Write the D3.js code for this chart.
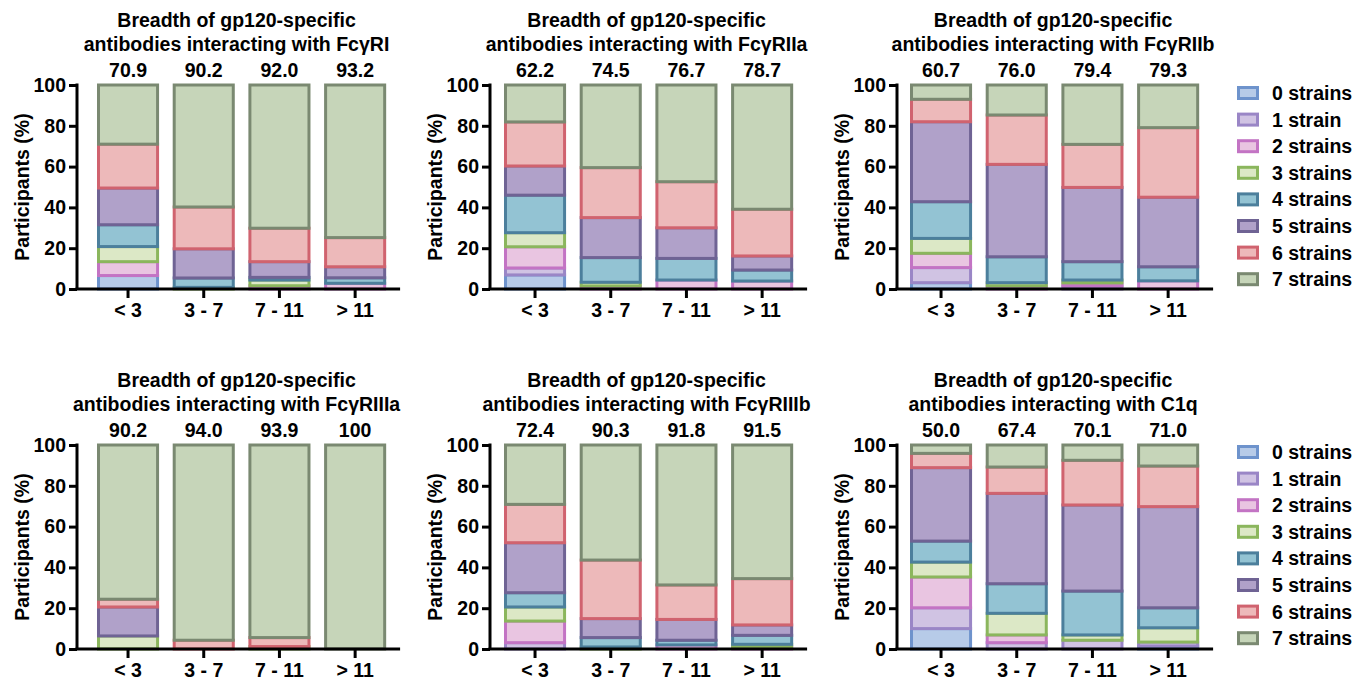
<!DOCTYPE html>
<html>
<head>
<meta charset="utf-8">
<script src="https://cdn.jsdelivr.net/npm/d3@7"></script>
<style>
  body { margin: 0; background: #fff; }
  svg { display: block; font-family: "Liberation Sans", Arial, sans-serif; font-weight: bold; }
</style>
</head>
<body>
<div id="chart"></div>
<script>
// categories (x axis) and stack keys
const groups = ["< 3", "3 - 7", "7 - 11", "> 11"];
const strainKeys = ["0 strains", "1 strain", "2 strains", "3 strains", "4 strains", "5 strains", "6 strains", "7 strains"];

// panel titles (second line)
const receptors = ["FcγRI", "FcγRIIa", "FcγRIIb", "FcγRIIIa", "FcγRIIIb", "C1q"];

// numbers printed above the bars
const topLabels = [
  ["70.9", "90.2", "92.0", "93.2"],
  ["62.2", "74.5", "76.7", "78.7"],
  ["60.7", "76.0", "79.4", "79.3"],
  ["90.2", "94.0", "93.9", "100"],
  ["72.4", "90.3", "91.8", "91.5"],
  ["50.0", "67.4", "70.1", "71.0"]
];

// % of participants per number of strains (0..7), one row per age group
const fcgr1 = [
  [6.6, 0, 6.8, 7.4, 10.7, 18.0, 21.5, 29.0],
  [0, 0, 0, 0.8, 4.6, 14.3, 20.5, 59.8],
  [0, 0, 1.6, 2.8, 1.3, 7.7, 16.4, 70.2],
  [0, 0, 2.8, 0, 2.7, 5.4, 14.3, 74.8]
];
const fcgr2a = [
  [6.9, 3.4, 10.4, 6.9, 18.4, 14.3, 21.6, 18.1],
  [0, 0, 1.5, 1.8, 12.1, 19.6, 24.5, 40.5],
  [0, 0, 4.4, 0, 10.6, 15.0, 22.6, 47.4],
  [0, 0, 3.9, 0, 5.4, 6.9, 22.9, 60.9]
];
const fcgr2b = [
  [3.1, 7.4, 7.0, 7.3, 18.0, 39.2, 11.0, 7.0],
  [0, 0, 1.5, 1.6, 12.7, 45.3, 24.2, 14.7],
  [0, 1.5, 1.5, 1.4, 9.0, 36.4, 21.1, 29.1],
  [0, 0, 4.0, 0, 6.9, 34.1, 34.1, 20.9]
];
const fcgr3a = [
  [0, 0, 0, 6.4, 0, 14.2, 3.8, 75.6],
  [0, 0, 0, 0, 0, 0, 4.3, 95.7],
  [0, 0, 0, 1.2, 0, 0, 4.4, 94.4],
  [0, 0, 0, 0, 0, 0, 0, 100]
];
const fcgr3b = [
  [0, 3.1, 10.6, 6.9, 7.0, 24.5, 18.8, 29.1],
  [0, 0, 0, 1.0, 4.6, 9.3, 28.7, 56.4],
  [0, 0, 2.0, 0, 2.3, 10.2, 16.9, 68.6],
  [0, 0, 1.0, 1.3, 4.4, 5.1, 22.7, 65.5]
];
const c1q = [
  [10.0, 10.2, 15.1, 7.3, 10.3, 36.0, 7.0, 4.1],
  [0, 3.1, 3.8, 10.6, 14.5, 44.3, 12.9, 10.8],
  [0, 4.3, 0, 2.6, 21.5, 42.2, 21.9, 7.5],
  [1.5, 1.9, 0, 7.0, 9.8, 49.6, 19.9, 10.3]
];
const panelData = [fcgr1, fcgr2a, fcgr2b, fcgr3a, fcgr3b, c1q];

const fills = ["#b7cbe8", "#d0c3e3", "#e9c5e1", "#dce8c6", "#93c3d3", "#b0a1c9", "#edb9ba", "#c6d5b9"];
const strokes = ["#6e93cc", "#9a86c6", "#c374c4", "#8bb65d", "#4c7f9c", "#6f6394", "#d0636f", "#7a8971"];

const W = 1369, H = 682;
const svg = d3.select("#chart").append("svg").attr("width", W).attr("height", H);

const axisX = [77, 490, 897];
const barStart = [97, 504, 910];
const rowTop = [0, 360];
const step = 75.7;

const color = d3.scaleOrdinal().domain(strainKeys).range(fills);
const colorStroke = d3.scaleOrdinal().domain(strainKeys).range(strokes);

panelData.forEach((rows, p) => {
  const col = p % 3, row = Math.floor(p / 3);
  const oy = rowTop[row];
  const ax = axisX[col];
  const axEnd = barStart[col] + 3 * step + 62 + 14;
  const g = svg.append("g");

  const y = d3.scaleLinear().domain([0, 100]).range([oy + 289, oy + 85]);
  const x = d3.scaleBand().domain(groups)
    .range([barStart[col] - step * 0.09, barStart[col] - step * 0.09 + 4 * step])
    .paddingInner(0.18).paddingOuter(0.09);

  // stacked data
  const table = rows.map((r, i) => {
    const o = { group: groups[i] };
    strainKeys.forEach((k, j) => o[k] = r[j]);
    return o;
  });
  const series = d3.stack().keys(strainKeys)(table);

  series.forEach(s => {
    g.selectAll(null)
      .data(s.filter(d => d[1] - d[0] > 0))
      .enter()
      .append("rect")
      .attr("x", d => x(d.data.group) + 1.5)
      .attr("width", x.bandwidth() - 3)
      .attr("y", d => y(d[1]))
      .attr("height", d => y(d[0]) - y(d[1]))
      .attr("fill", color(s.key))
      .attr("stroke", colorStroke(s.key))
      .attr("stroke-width", 3);
  });

  // y axis
  const yAxis = g.append("g")
    .attr("transform", `translate(${ax},0)`)
    .call(d3.axisLeft(y).tickValues([0, 20, 40, 60, 80, 100]).tickSize(8).tickPadding(3));
  yAxis.select(".domain").attr("stroke", "#000").attr("stroke-width", 3)
    .attr("d", `M0,${y(100) - 1.5}V${y(0)}`);
  yAxis.selectAll(".tick line").attr("stroke", "#000").attr("stroke-width", 3);
  yAxis.selectAll(".tick text").attr("fill", "#000")
    .attr("font-size", 19.5).attr("font-family", "Liberation Sans, Arial, sans-serif").attr("font-weight", "bold");

  // x axis
  const xAxis = g.append("g")
    .attr("transform", `translate(0,${y(0)})`)
    .call(d3.axisBottom(x).tickSize(9).tickPadding(5));
  xAxis.select(".domain").attr("stroke", "#000").attr("stroke-width", 3)
    .attr("d", `M${ax - 1.5},0H${axEnd}`);
  xAxis.selectAll(".tick line").attr("stroke", "#000").attr("stroke-width", 3);
  xAxis.selectAll(".tick text").attr("fill", "#000")
    .attr("font-size", 19.5).attr("font-family", "Liberation Sans, Arial, sans-serif").attr("font-weight", "bold");

  // y axis title
  g.append("text")
    .attr("transform", `translate(${ax - 48},${(y(0) + y(100)) / 2}) rotate(-90)`)
    .attr("text-anchor", "middle")
    .attr("font-size", 19.5)
    .text("Participants (%)");

  // values above bars
  g.selectAll(".top")
    .data(groups)
    .enter()
    .append("text")
    .attr("x", d => x(d) + x.bandwidth() / 2)
    .attr("y", oy + 77)
    .attr("text-anchor", "middle")
    .attr("font-size", 19.5)
    .text((d, i) => topLabels[p][i]);

  // title
  const cx = (ax + axEnd) / 2 - 2;
  g.append("text")
    .attr("x", cx).attr("y", oy + 27)
    .attr("text-anchor", "middle").attr("font-size", 19.5)
    .text("Breadth of gp120-specific");
  g.append("text")
    .attr("x", cx).attr("y", oy + 51)
    .attr("text-anchor", "middle").attr("font-size", 19.5)
    .text("antibodies interacting with " + receptors[p]);
});

// legends
[93, 452].forEach(ly => {
  const lg = svg.append("g").attr("transform", `translate(1237,${ly})`);
  const items = lg.selectAll("g")
    .data(strainKeys)
    .enter()
    .append("g")
    .attr("transform", (d, i) => `translate(0,${i * 26.6})`);
  items.append("rect")
    .attr("x", 1.5).attr("y", -5.5)
    .attr("width", 19).attr("height", 11)
    .attr("fill", d => color(d))
    .attr("stroke", d => colorStroke(d))
    .attr("stroke-width", 3);
  items.append("text")
    .attr("x", 35).attr("y", 7)
    .attr("font-size", 19.5)
    .text(d => d);
});
</script>
</body>
</html>
